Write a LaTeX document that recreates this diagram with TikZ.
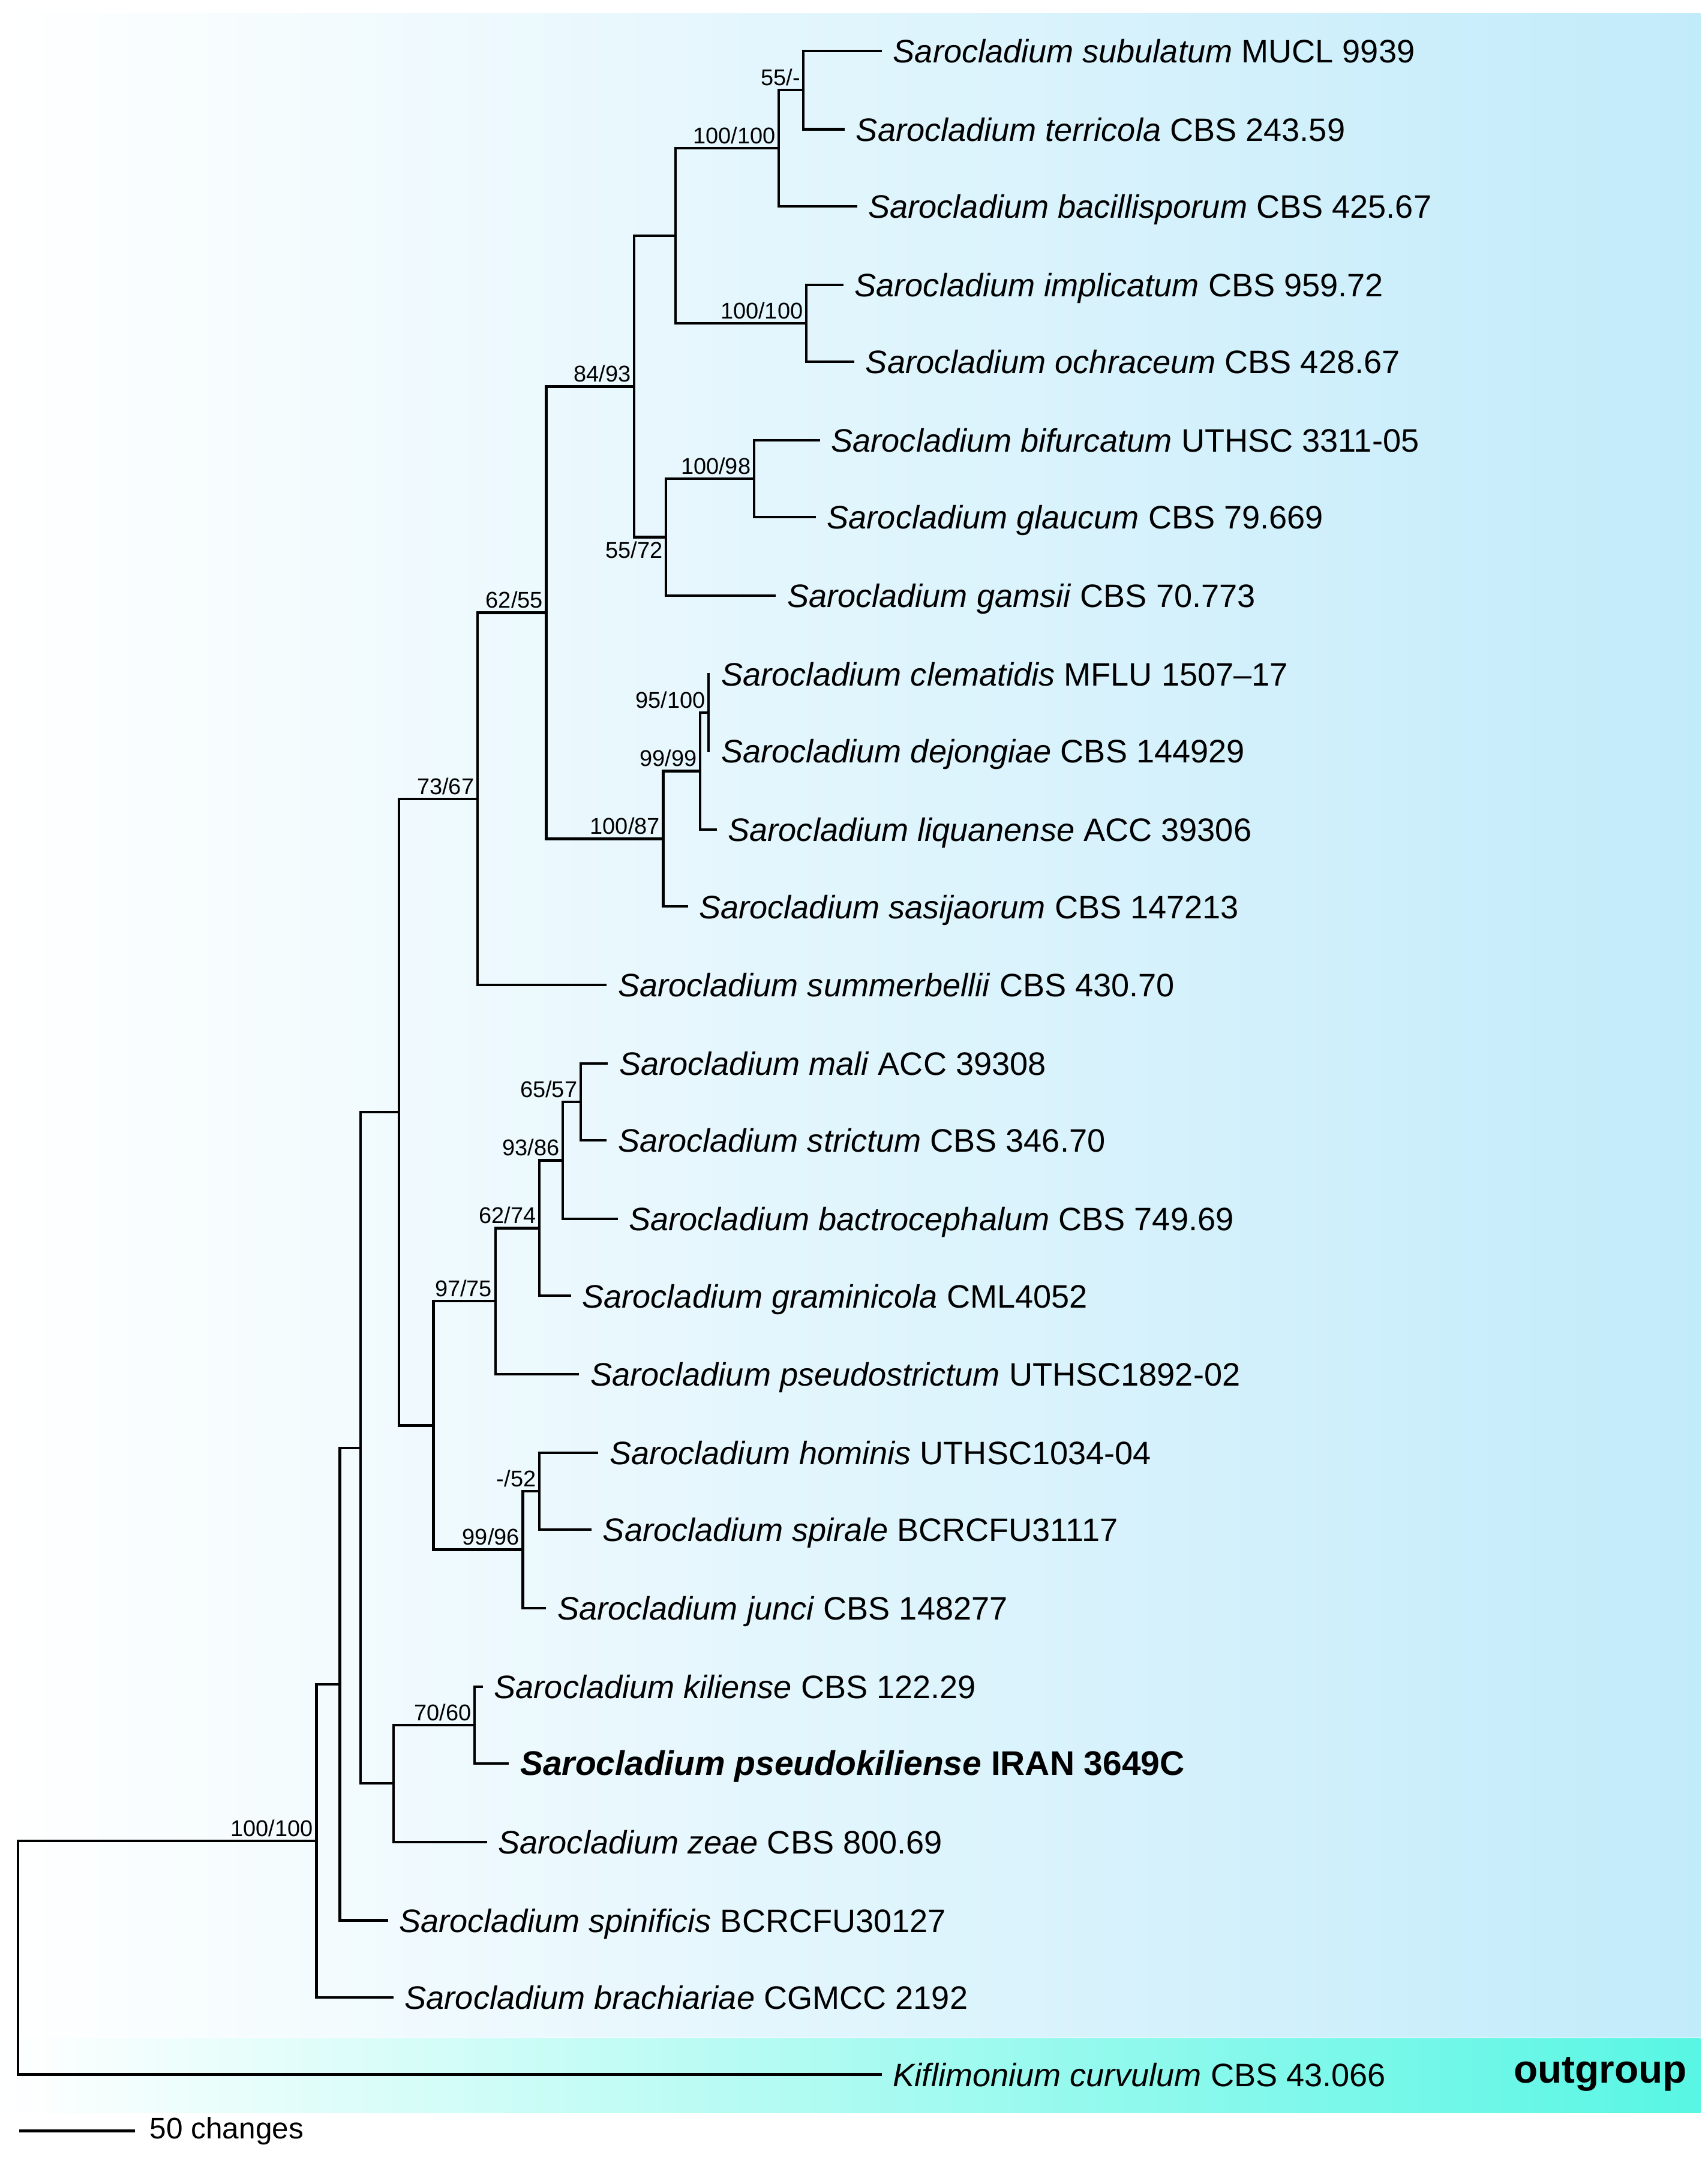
\documentclass[tikz,border=0pt]{standalone}
\usepackage{fontspec}
\setmainfont{Liberation Sans}
\usepackage{tikz}
\definecolor{skyend}{RGB}{194,235,250}
\definecolor{outend}{RGB}{88,246,228}

\begin{document}
\begin{tikzpicture}[x=0.02294cm,y=-0.02294cm,line width=1.2pt,line cap=rect,
		leaf/.style={anchor=west,inner xsep=6pt,inner ysep=0pt,outer sep=0pt,text height=11.2pt,text depth=0pt,font=\fontsize{15.4}{18}\selectfont},
		boot/.style={anchor=south east,inner xsep=1pt,inner ysep=1.5pt,font=\fontsize{10.8}{13}\selectfont}]
			\useasboundingbox (0,0) rectangle (1241,1568);
			\shade[left color=white,right color=skyend] (0,10) rectangle (1236,1481);
			\shade[left color=white,right color=outend] (0,1482) rectangle (1236,1536);

			\coordinate (n1) at (584,65.5);
			\coordinate (n2) at (566,107.75);
			\coordinate (n3) at (586,235);
			\coordinate (n4) at (491,171.4);
			\coordinate (n5) at (548,348);
			\coordinate (n6) at (484,390.5);
			\coordinate (n7) at (461,281);
			\coordinate (n8) at (515,518);
			\coordinate (n9) at (509,560.5);
			\coordinate (n10) at (482,609.75);
			\coordinate (n11) at (397,445.4);
			\coordinate (n12) at (347,580.7);
			\coordinate (n13) at (422,801);
			\coordinate (n14) at (409,843.5);
			\coordinate (n15) at (392,892.75);
			\coordinate (n16) at (360,945.9);
			\coordinate (n17) at (392,1084);
			\coordinate (n18) at (380,1126.5);
			\coordinate (n19) at (315,1036.2);
			\coordinate (n20) at (290,808.5);
			\coordinate (n21) at (345,1254);
			\coordinate (n22) at (286,1296.5);
			\coordinate (n23) at (262,1052.5);
			\coordinate (n24) at (247,1224.25);
			\coordinate (n25) at (230,1338.1);
			\coordinate (root) at (13,1423);

			\node[leaf] (subulatum) at (640,37) {\textit{Sarocladium subulatum} MUCL 9939};
			\node[leaf] (terricola) at (613,94) {\textit{Sarocladium terricola} CBS 243.59};
			\node[leaf] (bacillisporum) at (622,150) {\textit{Sarocladium bacillisporum} CBS 425.67};
			\node[leaf] (implicatum) at (612,207) {\textit{Sarocladium implicatum} CBS 959.72};
			\node[leaf] (ochraceum) at (620,263) {\textit{Sarocladium ochraceum} CBS 428.67};
			\node[leaf] (bifurcatum) at (595,320) {\textit{Sarocladium bifurcatum} UTHSC 3311-05};
			\node[leaf] (glaucum) at (592,376) {\textit{Sarocladium glaucum} CBS 79.669};
			\node[leaf] (gamsii) at (563,433) {\textit{Sarocladium gamsii} CBS 70.773};
			\node[leaf] (clematidis) at (515,490) {\textit{Sarocladium clematidis} MFLU 1507--17};
			\node[leaf] (dejongiae) at (515,546) {\textit{Sarocladium dejongiae} CBS 144929};
			\node[leaf] (liquanense) at (520,603) {\textit{Sarocladium liquanense} ACC 39306};
			\node[leaf] (sasijaorum) at (499,659) {\textit{Sarocladium sasijaorum} CBS 147213};
			\node[leaf] (summerbellii) at (440,716) {\textit{Sarocladium summerbellii} CBS 430.70};
			\node[leaf] (mali) at (441,773) {\textit{Sarocladium mali} ACC 39308};
			\node[leaf] (strictum) at (440,829) {\textit{Sarocladium strictum} CBS 346.70};
			\node[leaf] (bactrocephalum) at (448,886) {\textit{Sarocladium bactrocephalum} CBS 749.69};
			\node[leaf] (graminicola) at (414,942) {\textit{Sarocladium graminicola} CML4052};
			\node[leaf] (pseudostrictum) at (420,999) {\textit{Sarocladium pseudostrictum} UTHSC1892-02};
			\node[leaf] (hominis) at (434,1056) {\textit{Sarocladium hominis} UTHSC1034-04};
			\node[leaf] (spirale) at (429,1112) {\textit{Sarocladium spirale} BCRCFU31117};
			\node[leaf] (junci) at (396,1169) {\textit{Sarocladium junci} CBS 148277};
			\node[leaf] (kiliense) at (350,1226) {\textit{Sarocladium kiliense} CBS 122.29};
			\node[leaf,font=\fontsize{16.2}{19}\selectfont\bfseries] (pseudokiliense) at (369,1282) {\textit{Sarocladium pseudokiliense} IRAN 3649C};
			\node[leaf] (zeae) at (353,1339) {\textit{Sarocladium zeae} CBS 800.69};
			\node[leaf] (spinificis) at (281,1396) {\textit{Sarocladium spinificis} BCRCFU30127};
			\node[leaf] (brachiariae) at (285,1452) {\textit{Sarocladium brachiariae} CGMCC 2192};
			\node[leaf] (kiflimonium) at (640,1508) {\textit{Kiflimonium curvulum} CBS 43.066};

			\draw (n1) |- (subulatum.west);
			\draw (n1) |- (terricola.west);
			\draw (n2) |- (n1);
			\draw (n2) |- (bacillisporum.west);
			\draw (n3) |- (implicatum.west);
			\draw (n3) |- (ochraceum.west);
			\draw (n4) |- (n2);
			\draw (n4) |- (n3);
			\draw (n5) |- (bifurcatum.west);
			\draw (n5) |- (glaucum.west);
			\draw (n6) |- (n5);
			\draw (n6) |- (gamsii.west);
			\draw (n7) |- (n4);
			\draw (n7) |- (n6);
			\draw (n8) |- (clematidis.west);
			\draw (n8) |- (dejongiae.west);
			\draw (n9) |- (n8);
			\draw (n9) |- (liquanense.west);
			\draw (n10) |- (n9);
			\draw (n10) |- (sasijaorum.west);
			\draw (n11) |- (n7);
			\draw (n11) |- (n10);
			\draw (n12) |- (n11);
			\draw (n12) |- (summerbellii.west);
			\draw (n13) |- (mali.west);
			\draw (n13) |- (strictum.west);
			\draw (n14) |- (n13);
			\draw (n14) |- (bactrocephalum.west);
			\draw (n15) |- (n14);
			\draw (n15) |- (graminicola.west);
			\draw (n16) |- (n15);
			\draw (n16) |- (pseudostrictum.west);
			\draw (n17) |- (hominis.west);
			\draw (n17) |- (spirale.west);
			\draw (n18) |- (n17);
			\draw (n18) |- (junci.west);
			\draw (n19) |- (n16);
			\draw (n19) |- (n18);
			\draw (n20) |- (n12);
			\draw (n20) |- (n19);
			\draw (n21) |- (kiliense.west);
			\draw (n21) |- (pseudokiliense.west);
			\draw (n22) |- (n21);
			\draw (n22) |- (zeae.west);
			\draw (n23) |- (n20);
			\draw (n23) |- (n22);
			\draw (n24) |- (n23);
			\draw (n24) |- (spinificis.west);
			\draw (n25) |- (n24);
			\draw (n25) |- (brachiariae.west);
			\draw (root) |- (n25);
			\draw (root) |- (kiflimonium.west);

			\node[boot] (s1) at (n1) {55/-};
			\node[boot] (s2) at (n2) {100/100};
			\node[boot] (s3) at (n3) {100/100};
			\node[boot] (s5) at (n5) {100/98};
			\node[boot,anchor=north east] (s6) at (n6) {55/72};
			\node[boot] (s7) at (n7) {84/93};
			\node[boot] (s8) at (n8) {95/100};
			\node[boot] (s9) at (n9) {99/99};
			\node[boot] (s10) at (n10) {100/87};
			\node[boot] (s11) at (n11) {62/55};
			\node[boot] (s12) at (n12) {73/67};
			\node[boot] (s13) at (n13) {65/57};
			\node[boot] (s14) at (n14) {93/86};
			\node[boot] (s15) at (n15) {62/74};
			\node[boot] (s16) at (n16) {97/75};
			\node[boot] (s17) at (n17) {-/52};
			\node[boot] (s18) at (n18) {99/96};
			\node[boot] (s21) at (n21) {70/60};
			\node[boot] (s25) at (n25) {100/100};

			\node[anchor=east,inner sep=0pt,font=\fontsize{18.7}{22}\selectfont\bfseries] (outgrp) at (1227,1508) {outgroup};

			\coordinate (bar1) at (15,1549);
			\coordinate (bar2) at (97,1549);
			\draw (bar1) -- (bar2);
			\node[anchor=west,inner xsep=0pt,font=\fontsize{14.1}{17}\selectfont] (barlbl) at (108,1549) {50 changes};
		\end{tikzpicture}
\end{document}
